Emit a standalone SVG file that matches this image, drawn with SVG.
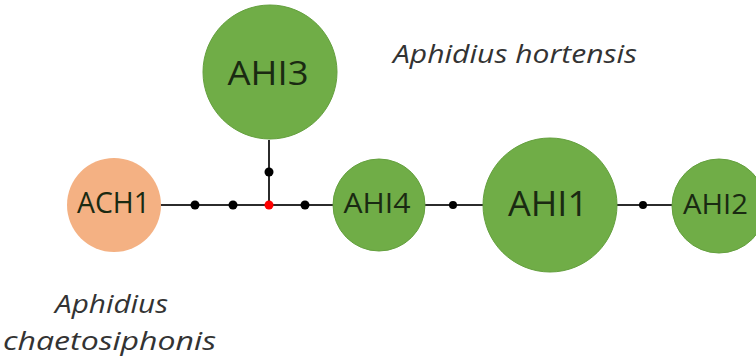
<svg xmlns="http://www.w3.org/2000/svg" width="756" height="363" viewBox="0 0 756 363">
<style>
.g{fill:#70AD47;stroke:#64a03e;stroke-width:1}
.o{fill:#F4B183}
.lbl{font-family:"Open Sans","Noto Sans",sans-serif;fill:#1a2a12;text-anchor:middle}
.sp{font-family:"Open Sans","Noto Sans",sans-serif;font-style:italic;fill:#333;font-size:25px}
.ln{stroke:#2b2b2b;stroke-width:2;fill:none}
.d{fill:#000}
</style>
<rect width="756" height="363" fill="#fff"/>
<g id="connectors">
<line class="ln" x1="160" y1="205" x2="333" y2="205"/>
<line class="ln" x1="269" y1="140" x2="269" y2="205"/>
<line class="ln" x1="425" y1="205" x2="483" y2="205"/>
<line class="ln" x1="617" y1="205" x2="672" y2="205"/>
<circle class="d" cx="195" cy="205" r="4.5"/>
<circle class="d" cx="233" cy="205" r="4.5"/>
<circle cx="269" cy="205" r="4.5" fill="#ff0000"/>
<circle class="d" cx="305" cy="205" r="4.5"/>
<circle class="d" cx="269" cy="172" r="4.5"/>
<circle class="d" cx="453" cy="205" r="4"/>
<circle class="d" cx="643" cy="205" r="4"/>
</g>
<g id="ACH1">
<circle class="o" cx="114" cy="205" r="47"/>
<text class="lbl" x="113.5" y="213" font-size="29" textLength="73" lengthAdjust="spacingAndGlyphs">ACH1</text>
</g>
<g id="AHI3">
<circle class="g" cx="270" cy="72" r="67"/>
<text class="lbl" x="268" y="85" font-size="33" textLength="81" lengthAdjust="spacingAndGlyphs">AHI3</text>
</g>
<g id="AHI4">
<circle class="g" cx="379" cy="205" r="46"/>
<text class="lbl" x="377" y="213" font-size="28" textLength="67" lengthAdjust="spacingAndGlyphs">AHI4</text>
</g>
<g id="AHI1">
<circle class="g" cx="550" cy="205" r="67"/>
<text class="lbl" x="548" y="216" font-size="35" textLength="80" lengthAdjust="spacingAndGlyphs">AHI1</text>
</g>
<g id="AHI2">
<circle class="g" cx="719" cy="206" r="47"/>
<text class="lbl" x="715.5" y="214" font-size="28" textLength="65" lengthAdjust="spacingAndGlyphs">AHI2</text>
</g>
<g id="labels">
<text class="sp" x="393" y="63" textLength="244" lengthAdjust="spacingAndGlyphs">Aphidius hortensis</text>
<text class="sp" x="55" y="313" textLength="113" lengthAdjust="spacingAndGlyphs">Aphidius</text>
<text class="sp" x="3" y="350" textLength="213" lengthAdjust="spacingAndGlyphs">chaetosiphonis</text>
</g>
</svg>
